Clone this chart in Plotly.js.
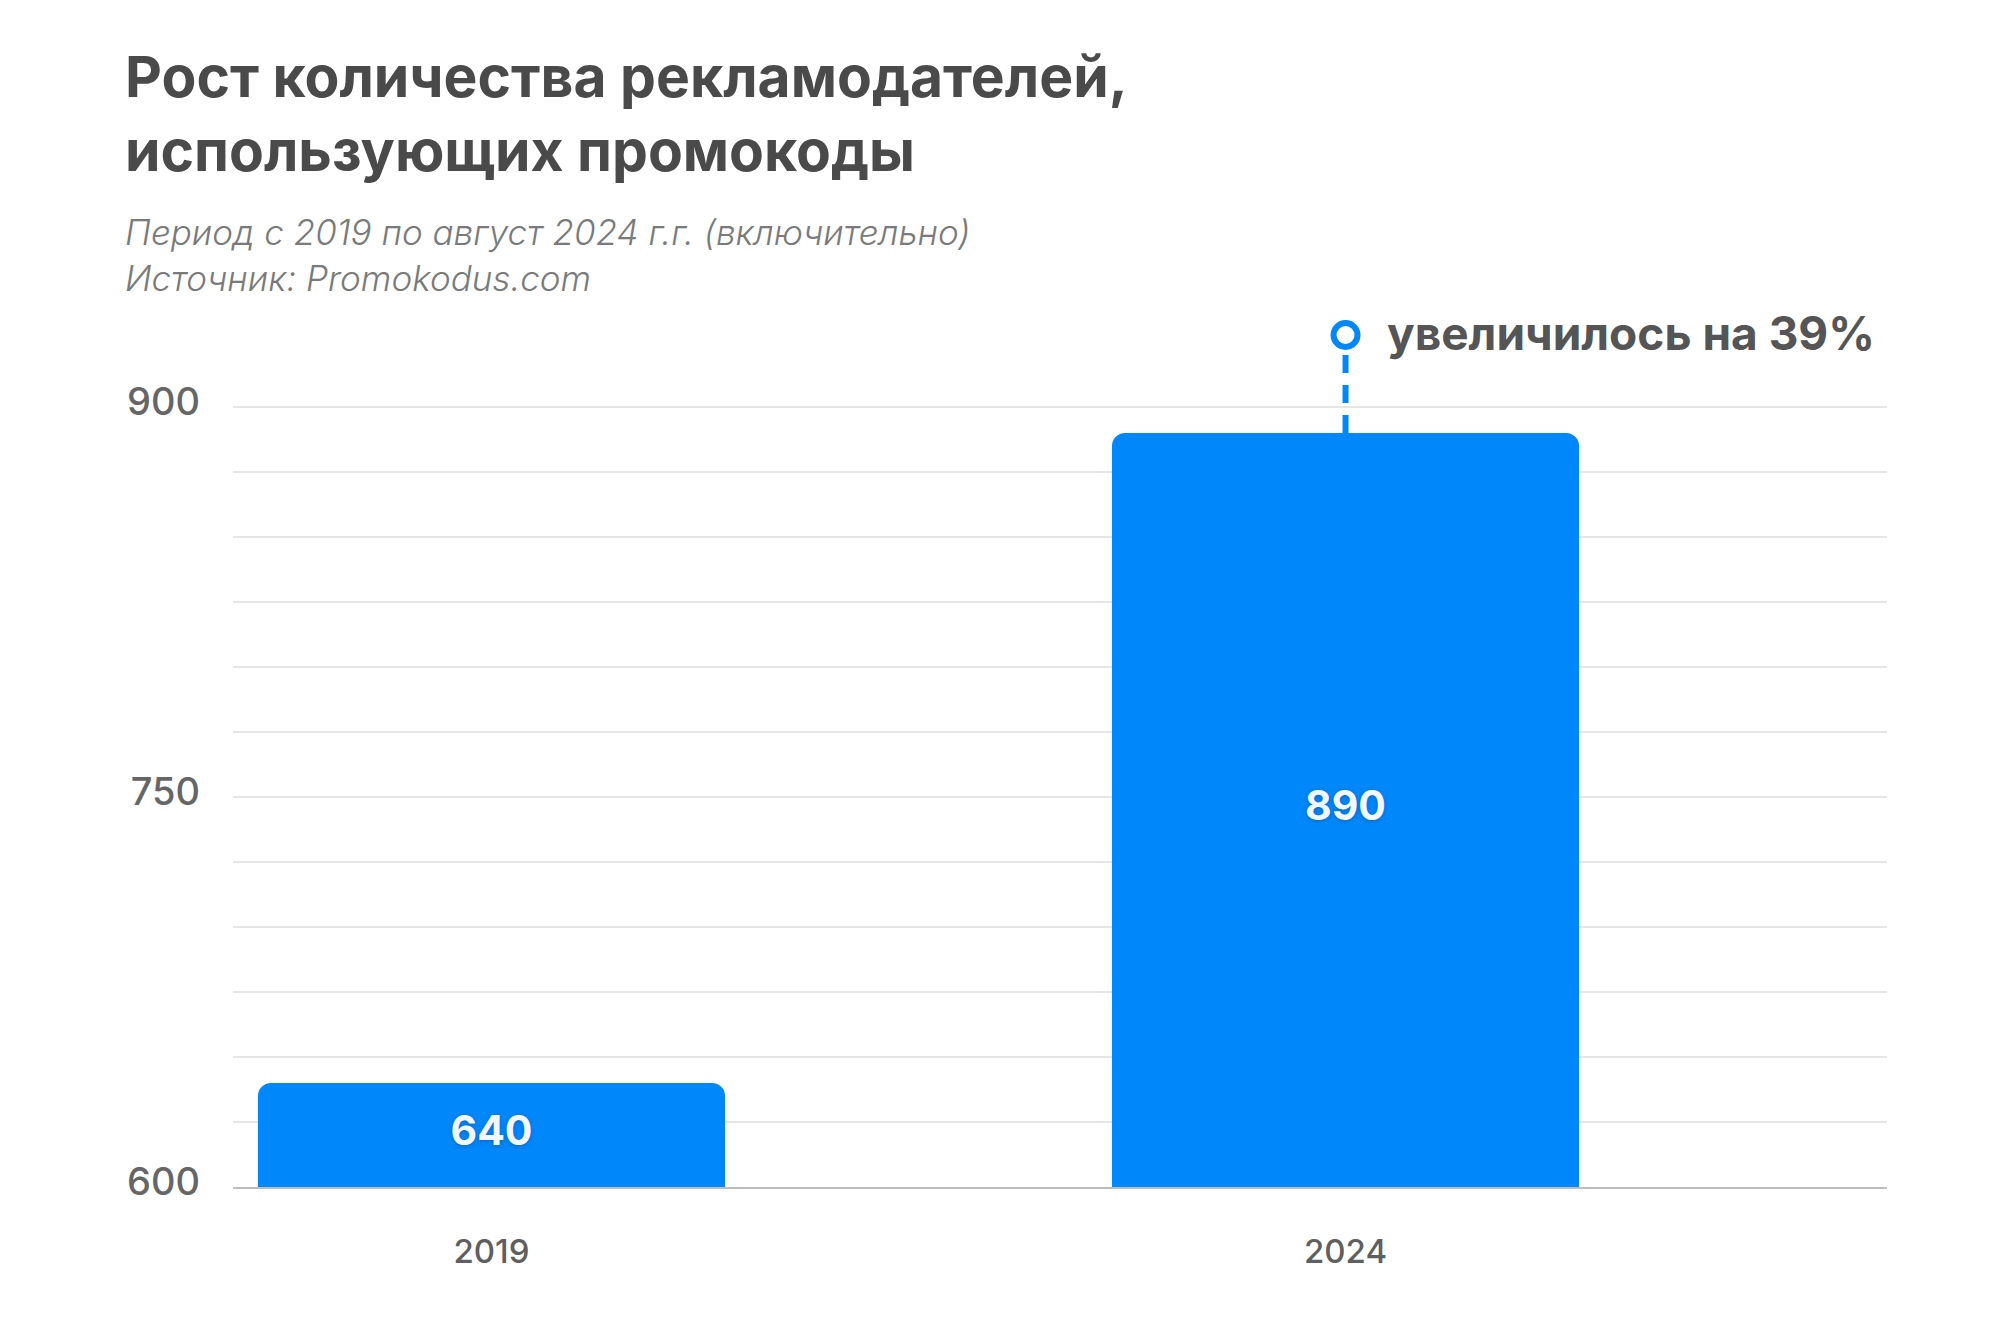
<!DOCTYPE html>
<html>
<head>
<meta charset="utf-8">
<script src="https://cdn.plot.ly/plotly-3.0.1.min.js"></script>
<style>html,body{margin:0;padding:0;background:#fff;}#chart{width:1999px;height:1344px;}</style>
</head>
<body>
<div id="chart"></div>
<script>
// ---- data ----
const years = ['2019', '2024'];
const advertisers = [640, 890];
const barLabels = ['640', '890'];
const yTickVals = [600, 750, 900];
const yTickText = ['600', '750', '900'];
const yMinorVals = [625, 650, 675, 700, 725, 775, 800, 825, 850, 875];
const calloutText = 'увеличилось на 39%';
const titleText = 'Рост количества рекламодателей,<br>использующих промокоды';
const subtitleText = '<i>Период с 2019 по август 2024 г.г. (включительно)<br>Источник: Promokodus.com</i>';

// ---- style ----
const FONT = 'Inter, Roboto, "Open Sans", sans-serif';
const BLUE = '#0087FA';
const yRange = [600, 927.7];
const calloutY = yRange[1];
const calloutIdx = years.length - 1;

// label positions: middle of the visible part of each bar
const labelY = advertisers.map(v => (yRange[0] + v) / 2);

const traces = [
  {
    type: 'bar',
    x: years,
    y: advertisers,
    width: 0.547,
    marker: {color: BLUE, line: {width: 0}},
    hoverinfo: 'skip'
  },
  {
    type: 'scatter',
    mode: 'text',
    x: years,
    y: labelY,
    text: barLabels,
    textposition: 'middle center',
    textfont: {family: FONT, size: 41, color: '#F2F7FF', weight: 700, shadow: '0px 1px 4px rgba(0,0,0,0.25)'},
    hoverinfo: 'skip'
  },
  {
    type: 'scatter',
    mode: 'lines',
    x: [years[calloutIdx], years[calloutIdx]],
    y: [advertisers[calloutIdx], calloutY],
    line: {color: BLUE, width: 6, dash: '18px,12px'},
    hoverinfo: 'skip'
  },
  {
    type: 'scatter',
    mode: 'markers',
    x: [years[calloutIdx]],
    y: [calloutY],
    marker: {symbol: 'circle', size: 24, color: '#ffffff', line: {color: BLUE, width: 6}},
    cliponaxis: false,
    hoverinfo: 'skip'
  }
];

const layout = {
  width: 1999,
  height: 1344,
  paper_bgcolor: '#ffffff',
  plot_bgcolor: '#ffffff',
  showlegend: false,
  barcornerradius: 13,
  margin: {l: 233, r: 112, t: 335, b: 157, pad: 0},
  font: {family: FONT, color: '#666666'},
  title: {
    text: titleText,
    font: {family: FONT, size: 57, color: '#4a4a4a', weight: 700},
    xref: 'container', x: 125 / 1999, xanchor: 'left',
    yref: 'container', y: 1 - 97 / 1344, yanchor: 'middle'
  },
  xaxis: {
    type: 'category',
    categoryorder: 'array',
    categoryarray: years,
    range: [-0.3027, 1.634],
    showgrid: false,
    zeroline: false,
    showline: true,
    linecolor: '#bdbdbd',
    linewidth: 1.5,
    ticks: '',
    ticklabelstandoff: 35,
    tickfont: {family: FONT, size: 33, color: '#5f5f5f', weight: 500},
    fixedrange: true
  },
  yaxis: {
    range: yRange,
    tickmode: 'array',
    tickvals: yTickVals,
    ticktext: yTickText,
    showgrid: true,
    gridcolor: '#e6e6e6',
    gridwidth: 1.5,
    zeroline: false,
    showline: false,
    ticks: '',
    ticklabelstandoff: 32,
    ticklabelshift: -5,
    tickfont: {family: FONT, size: 38, color: '#666666', weight: 500},
    minor: {tickvals: yMinorVals, showgrid: true, gridcolor: '#e6e6e6', gridwidth: 1.5, ticks: ''},
    fixedrange: true
  },
  shapes: [
    {type: 'line', xref: 'paper', yref: 'y', x0: 0, x1: 1, y0: yTickVals[yTickVals.length - 1], y1: yTickVals[yTickVals.length - 1],
     line: {color: '#bdbdbd', width: 1.5}, layer: 'below'}
  ],
  annotations: [
    {
      xref: 'paper', yref: 'paper',
      x: (123 - 233) / 1654, y: 1.094,
      xanchor: 'left', yanchor: 'middle', align: 'left',
      showarrow: false,
      text: subtitleText,
      font: {family: FONT, size: 35, color: '#7a7a7a', weight: 300}
    },
    {
      xref: 'x', yref: 'paper',
      x: calloutIdx, y: 1,
      xanchor: 'left', yanchor: 'middle',
      xshift: 39, yshift: 2,
      showarrow: false,
      text: calloutText,
      font: {family: FONT, size: 46, color: '#555555', weight: 700}
    }
  ]
};

Plotly.newPlot('chart', traces, layout, {displayModeBar: false, staticPlot: true});
</script>
</body>
</html>
